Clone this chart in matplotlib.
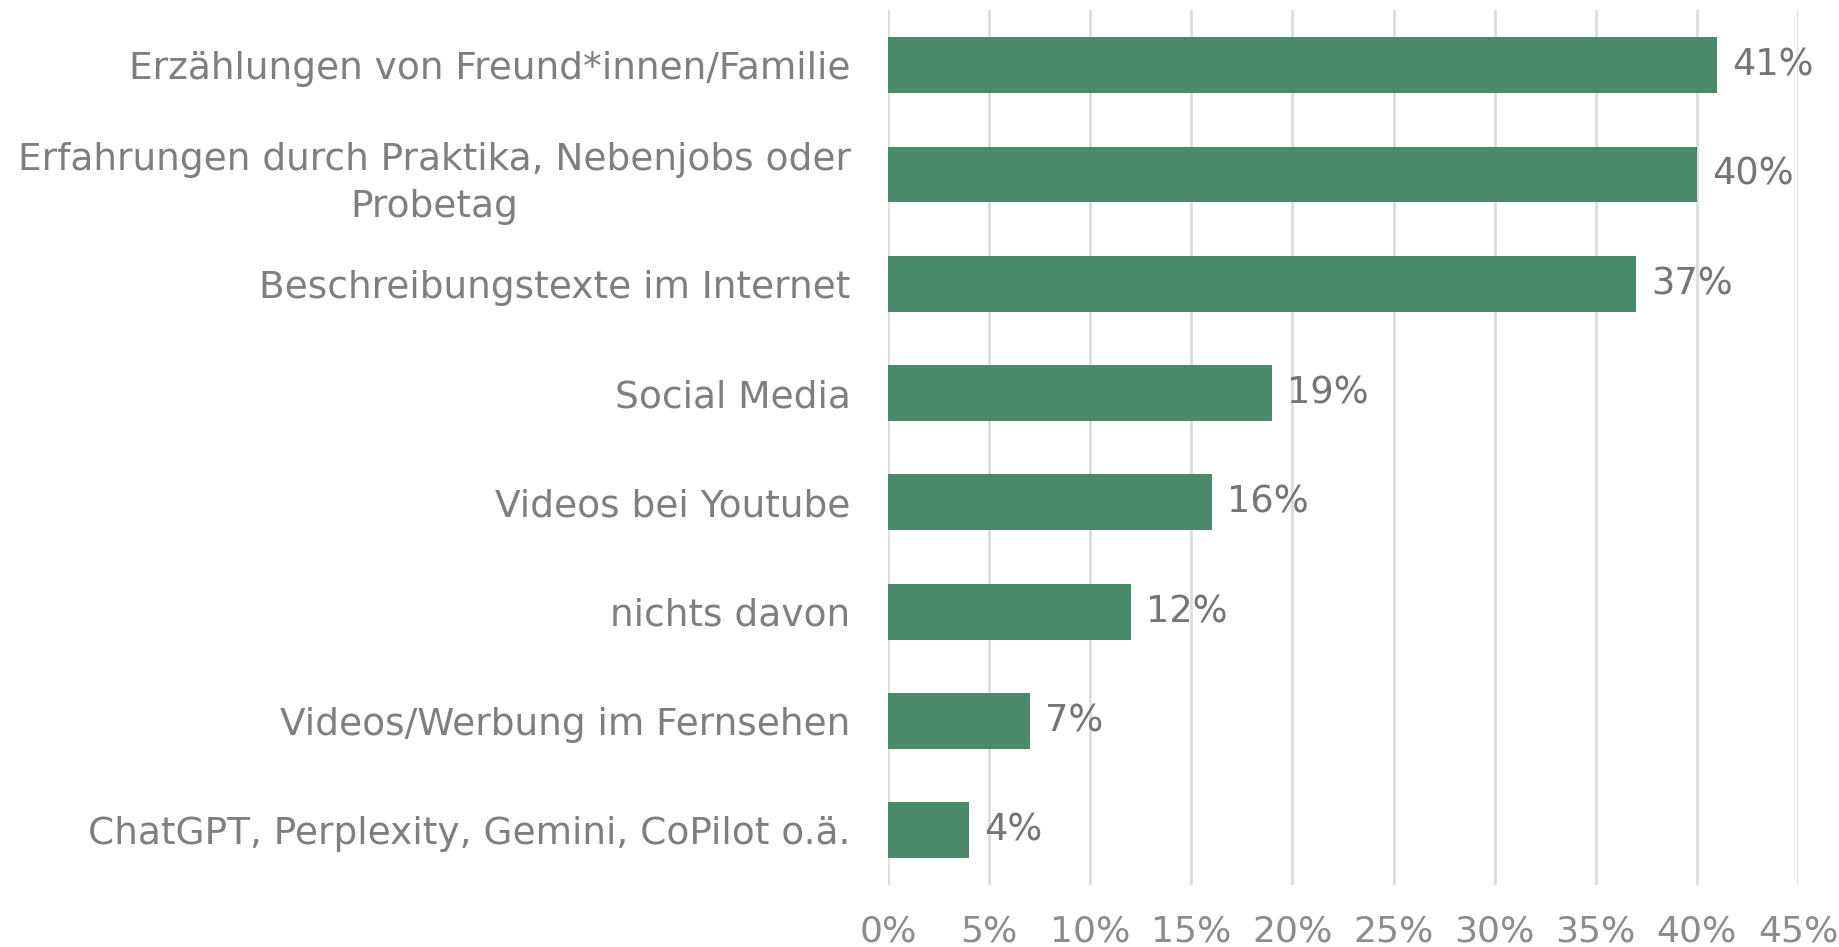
import numpy as np
import matplotlib
matplotlib.use('Agg')
import matplotlib.pyplot as plt

# data
categories = [
    'Erzählungen von Freund*innen/Familie',
    'Erfahrungen durch Praktika, Nebenjobs oder\nProbetag',
    'Beschreibungstexte im Internet',
    'Social Media',
    'Videos bei Youtube',
    'nichts davon',
    'Videos/Werbung im Fernsehen',
    'ChatGPT, Perplexity, Gemini, CoPilot o.ä.',
]
values = [41, 40, 37, 19, 16, 12, 7, 4]
xticks = [0, 5, 10, 15, 20, 25, 30, 35, 40, 45]

BAR = '#4a896b'
GRID = '#dddddd'
LABEL = '#7f7f7f'

fig = plt.figure(figsize=(18.39, 9.47), dpi=100)
ax = fig.add_axes([0.4829, 0.0655, 0.4948, 0.9235])

y = np.arange(len(categories))
ax.barh(y, values, height=0.51, color=BAR, zorder=3)

for yi, v in zip(y, values):
    ax.text(v + 0.75, yi, f'{v}%', va='center', ha='left',
            fontsize=26.5, color='#757575')

ax.set_xlim(0, 45)
ax.set_ylim(len(categories) - 0.5, -0.5)
ax.set_xticks(xticks)
ax.set_xticklabels([f'{t}%' for t in xticks], fontsize=26, color='#8c8c8c')
ax.set_yticks(y)
ax.set_yticklabels(categories, fontsize=27, color=LABEL,
                   multialignment='center', linespacing=1.38)
ax.tick_params(axis='both', length=0)
ax.tick_params(axis='x', pad=21)
ax.tick_params(axis='y', pad=27)

ax.xaxis.grid(True, color=GRID, linewidth=2)
ax.set_axisbelow(True)
for s in ax.spines.values():
    s.set_visible(False)

fig.savefig('out.png', dpi=100)
